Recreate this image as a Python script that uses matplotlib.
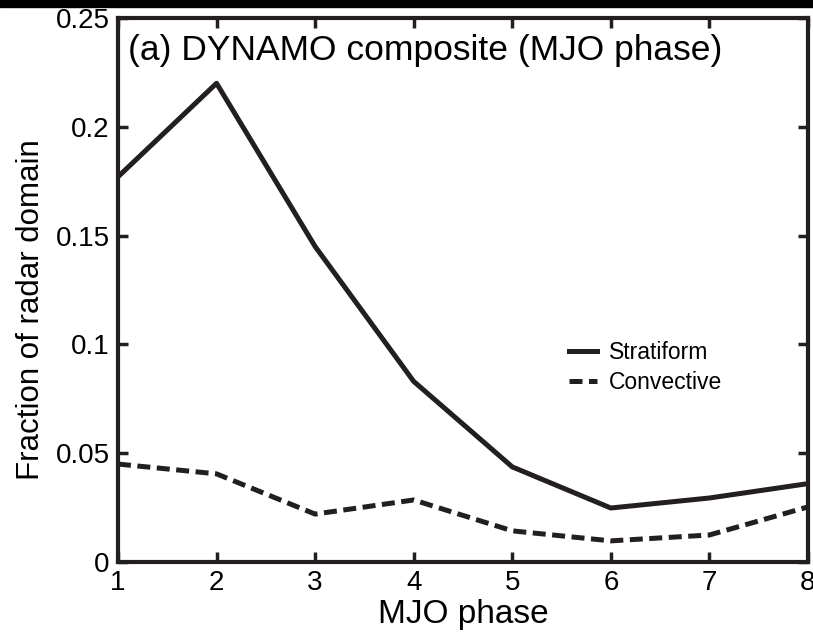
import matplotlib
matplotlib.use("Agg")
import matplotlib.pyplot as plt
from matplotlib.patches import Rectangle

plt.rcParams['font.family'] = ['Liberation Sans', 'DejaVu Sans']

phases = [1, 2, 3, 4, 5, 6, 7, 8]
stratiform = [0.177, 0.220, 0.145, 0.083, 0.0437, 0.0248, 0.0294, 0.036]
convective = [0.045, 0.0405, 0.022, 0.0285, 0.0143, 0.0097, 0.0124, 0.0253]
yticks = [0, 0.05, 0.1, 0.15, 0.2, 0.25]
ytick_labels = ['0', '0.05', '0.1', '0.15', '0.2', '0.25']

fig = plt.figure(figsize=(8.13, 6.36), dpi=100)
ax = fig.add_axes([0.1451, 0.1164, 0.8487, 0.8553])
col = '#231f20'
ax.plot(phases, stratiform, color=col, lw=3.6, label='Stratiform')
ax.plot(phases, convective, color=col, lw=3.6, ls=(0, (2.6, 1.3)), label='Convective')
ax.set_xlim(1, 8)
ax.set_ylim(0, 0.25)
ax.set_xticks(phases)
ax.set_yticks(yticks)
ax.set_yticklabels(ytick_labels)
ax.tick_params(direction='in', length=7, width=2.5, labelsize=20, top=True, right=True, color=col, pad=6)
for s in ax.spines.values():
    s.set_linewidth(3)
    s.set_color(col)
ax.set_xlabel('MJO phase', fontsize=24, labelpad=2)
ax.set_ylabel('Fraction of radar domain', fontsize=22.5)
ax.yaxis.set_label_coords(-0.104, 0.463)
ax.text(0.015, 0.94, '(a) DYNAMO composite (MJO phase)', transform=ax.transAxes,
        fontsize=25.5, va='center', ha='left')
leg = ax.legend(loc='center left', bbox_to_anchor=(0.64, 0.357), frameon=False, fontsize=16.5,
                handlelength=1.25, handletextpad=0.5, labelspacing=0.3, borderaxespad=0)
fig.add_artist(Rectangle((0, 1 - 7/636), 1, 7/636, transform=fig.transFigure, color='black'))
fig.savefig('out.png', dpi=100)
